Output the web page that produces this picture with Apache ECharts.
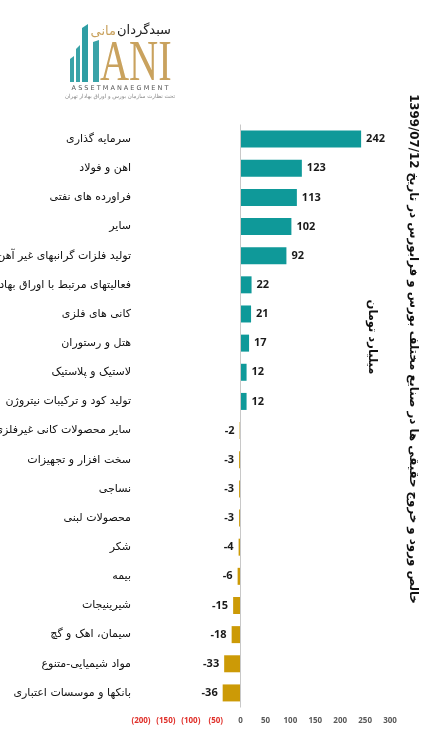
<!DOCTYPE html>
<html>
<head>
<meta charset="utf-8">
<script src="https://cdn.jsdelivr.net/npm/echarts@6/dist/echarts.min.js"></script>
<style>
html,body{margin:0;padding:0;background:#fff;}
#chart{width:434px;height:744px;}
</style>
</head>
<body>
<div id="chart"></div>
<script>
var categories = [
  'سرمایه گذاری',
  'اهن و فولاد',
  'فراورده های نفتی',
  'سایر',
  'تولید فلزات گرانبهای غیر آهن',
  'فعالیتهای مرتبط با اوراق بهادار',
  'کانی های فلزی',
  'هتل و رستوران',
  'لاستیک و پلاستیک',
  'تولید کود و ترکیبات نیتروژن',
  'سایر محصولات کانی غیرفلزی',
  'سخت افزار و تجهیزات',
  'نساجی',
  'محصولات لبنی',
  'شکر',
  'بیمه',
  'شیرینیجات',
  'سیمان، اهک و گچ',
  'مواد شیمیایی-متنوع',
  'بانکها و موسسات اعتباری'
];
var values = [242, 123, 113, 102, 92, 22, 21, 17, 12, 12, -2, -3, -3, -3, -4, -6, -15, -18, -33, -36];
var xTickValues = [-200, -150, -100, -50, 0, 50, 100, 150, 200, 250, 300];
var xTickLabels = ['(200)', '(150)', '(100)', '(50)', '0', '50', '100', '150', '200', '250', '300'];
var titleText = 'خالص ورود و خروج حقیقی ها در صنایع مختلف بورس و فرابورس در تاریخ 1399/07/12';
var unitText = 'میلیارد تومان';

var TEAL = '#0f9999';
var GOLD = '#cc9a06';

var chart = echarts.init(document.getElementById('chart'));

var barData = values.map(function (v) {
  return {
    value: v,
    itemStyle: { color: v >= 0 ? TEAL : GOLD },
    label: { position: v >= 0 ? 'right' : 'left' }
  };
});

var option = {
  backgroundColor: '#fff',
  animation: false,
  grid: { left: 141, right: 44, top: 124.5, bottom: 36.5, containLabel: false, outerBoundsMode: 'none' },
  xAxis: {
    type: 'value',
    min: -200,
    max: 300,
    interval: 50,
    axisLine: { show: false },
    axisTick: { show: false },
    splitLine: { show: false },
    axisLabel: {
      margin: 9,
      fontSize: 8,
      fontWeight: 'bold',
      fontFamily: 'Open Sans',
      formatter: function (v) {
        var i = xTickValues.indexOf(v);
        var s = i >= 0 ? xTickLabels[i] : String(v);
        return v < 0 ? '{neg|' + s + '}' : '{pos|' + s + '}';
      },
      rich: {
        neg: { color: '#e0302a', fontSize: 8, fontWeight: 'bold', fontFamily: 'Open Sans' },
        pos: { color: '#595959', fontSize: 8, fontWeight: 'bold', fontFamily: 'Open Sans' }
      }
    }
  },
  yAxis: {
    type: 'category',
    data: categories,
    inverse: true,
    axisLine: { show: false, onZero: false },
    axisTick: { show: false },
    axisLabel: {
      margin: 10,
      fontSize: 11,
      color: '#111',
      fontFamily: 'DejaVu Sans'
    }
  },
  series: [{
    type: 'bar',
    data: barData,
    barWidth: 17,
    label: {
      show: true,
      distance: 5,
      fontSize: 11,
      fontWeight: 'bold',
      color: '#1a1a1a',
      fontFamily: 'Open Sans'
    },
    markLine: {
      silent: true,
      symbol: ['none', 'none'],
      label: { show: false },
      lineStyle: { color: '#c8c8c8', type: 'solid', width: 1 },
      data: [{ xAxis: 0 }]
    }
  }],
  graphic: [
    {
      type: 'text',
      x: 413, y: 349,
      rotation: -Math.PI / 2,
      style: {
        text: titleText,
        fontSize: 11.8,
        fontWeight: 'bold',
        fontFamily: 'DejaVu Sans',
        fill: '#111',
        align: 'center',
        verticalAlign: 'middle'
      }
    },
    {
      type: 'text',
      x: 372, y: 337,
      rotation: -Math.PI / 2,
      style: {
        text: unitText,
        fontSize: 11.5,
        fontWeight: 'bold',
        fontFamily: 'DejaVu Sans',
        fill: '#111',
        align: 'center',
        verticalAlign: 'middle'
      }
    },
    // logo
    { type: 'polygon', shape: { points: [[70, 59], [74, 56], [74, 82], [70, 82]] }, style: { fill: '#3aa3a8' } },
    { type: 'polygon', shape: { points: [[76, 49], [80, 45], [80, 82], [76, 82]] }, style: { fill: '#3aa3a8' } },
    { type: 'polygon', shape: { points: [[82, 28], [88, 24], [88, 82], [82, 82]] }, style: { fill: '#2f9ea4' } },
    { type: 'polygon', shape: { points: [[93, 42], [99, 40], [99, 82], [93, 82]] }, style: { fill: '#3aa3a8' } },
    {
      type: 'text', x: 100, y: 65, scaleX: 0.72,
      style: { text: 'ANI', fontSize: 56, fontFamily: 'Liberation Serif', fill: '#c9a25e', align: 'left', verticalAlign: 'middle' }
    },
    {
      type: 'text', x: 171, y: 31,
      style: { text: 'سبدگردان', fontSize: 13, fontFamily: 'DejaVu Sans', fill: '#222', align: 'right', verticalAlign: 'middle' }
    },
    {
      type: 'text', x: 116, y: 32,
      style: { text: 'مانی', fontSize: 13, fontFamily: 'DejaVu Sans', fill: '#c9a25e', align: 'right', verticalAlign: 'middle' }
    },
    {
      type: 'text', x: 120, y: 88,
      style: { text: 'A S S E T M A N A E G M E N T', fontSize: 6.5, fontFamily: 'DejaVu Sans', fill: '#555', align: 'center', verticalAlign: 'middle' }
    },
    {
      type: 'text', x: 120, y: 97,
      style: { text: 'تحت نظارت سازمان بورس و اوراق بهادار تهران', fontSize: 5.5, fontFamily: 'DejaVu Sans', fill: '#888', align: 'center', verticalAlign: 'middle' }
    }
  ]
};
chart.setOption(option);
</script>
</body>
</html>
